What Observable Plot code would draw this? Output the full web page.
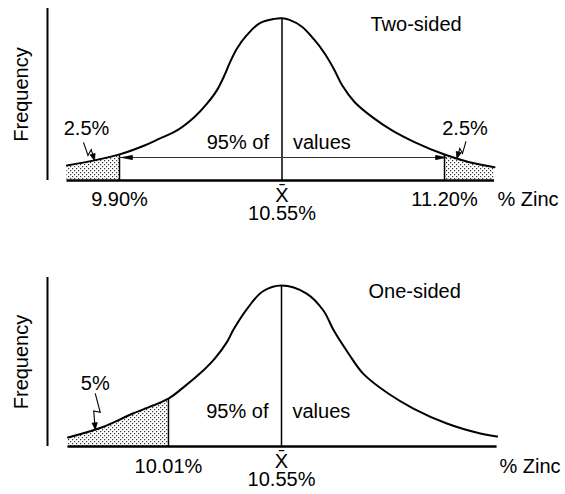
<!DOCTYPE html>
<html>
<head>
<meta charset="utf-8">
<script src="https://cdn.jsdelivr.net/npm/d3@7"></script>
<script src="https://cdn.jsdelivr.net/npm/@observablehq/plot@0.6"></script>
<style>
  html, body { margin: 0; padding: 0; background: #fff; }
  #chart { position: relative; width: 565px; height: 494px; }
  #chart svg { display: block; }
</style>
</head>
<body>
<div id="chart"></div>
<script>
// ---------------- data ----------------
// Two-sided panel: frequency curve (relative, peak = 100) vs % zinc
const topZinc = [9.69, 9.80, 9.90, 10.00, 10.06, 10.13, 10.20, 10.25, 10.29, 10.32, 10.34, 10.37, 10.41, 10.46, 10.52, 10.55,
                 10.58, 10.63, 10.68, 10.72, 10.76, 10.79, 10.84, 10.91, 10.99, 11.08, 11.20, 11.30, 11.40];
const topFreq = [9.3, 12.4, 16.1, 21.6, 25.8, 30.9, 39.2, 47.4, 55.7, 64.9, 72.2, 81.4, 89.7, 96.9, 99.6, 100,
                 99.0, 94.8, 86.6, 78.4, 68.0, 58.8, 48.4, 39.2, 30.9, 23.7, 16.0, 11.3, 8.2];
const topCutoffs = [9.90, 11.20];
const topCutoffLabels = ["9.90%", "11.20%"];
const topTailShares = ["2.5%", "2.5%"];

// One-sided panel
const bottomZinc = [9.53, 9.69, 9.84, 10.01, 10.08, 10.16, 10.23, 10.29, 10.32, 10.39, 10.46, 10.55,
                    10.67, 10.75, 10.80, 10.87, 10.94, 11.06, 11.18, 11.34, 11.50, 11.58];
const bottomFreq = [5.6, 11.8, 20.5, 29.8, 36.6, 45.3, 54.5, 65.0, 72.5, 86.3, 96.3, 100,
                    95.0, 84.5, 72.0, 57.8, 45.3, 32.9, 23.6, 14.3, 8.1, 6.2];
const bottomCutoffs = [10.01];
const bottomCutoffLabels = ["10.01%"];
const bottomTailShares = ["5%"];

const meanZinc = 10.55;
const meanLabels = ["X\u0304", "10.55%"];
const panelTitles = ["Two-sided", "One-sided"];
const centerTexts = ["95% of", "values"];
const xTitle = "% Zinc";
const yTitle = "Frequency";

// ---------------- helpers ----------------
const FONT = "'Liberation Sans', Arial, Helvetica, sans-serif";
const FS = 20;

function freqAt(zs, fs, x) {
  const i = d3.bisectLeft(zs, x);
  if (i <= 0) return fs[0];
  if (i >= zs.length) return fs[fs.length - 1];
  const t = (x - zs[i - 1]) / (zs[i] - zs[i - 1]);
  return fs[i - 1] + t * (fs[i] - fs[i - 1]);
}

// lightning-style pointer drawn as custom symbols (shape in px, anchored at tip)
function zigSymbol(pts, mirror) {
  return {draw(ctx, size) {
    const s = Math.sqrt(size / Math.PI), m = mirror ? -1 : 1;
    ctx.moveTo(m * pts[0][0] * s, pts[0][1] * s);
    for (const p of pts.slice(1)) ctx.lineTo(m * p[0] * s, p[1] * s);
  }};
}
function headSymbol(pts, mirror) {
  return {draw(ctx, size) {
    const s = Math.sqrt(size / Math.PI), m = mirror ? -1 : 1;
    const from = pts[pts.length - 2];
    const dx = -m * from[0], dy = -from[1];
    const L = Math.hypot(dx, dy), ux = dx / L, uy = dy / L;
    const hl = 6.5 * s, hw = 2.6 * s;
    const bx = -ux * hl, by = -uy * hl;
    ctx.moveTo(0, 0);
    ctx.lineTo(bx - uy * hw, by + ux * hw);
    ctx.lineTo(bx + uy * hw, by - ux * hw);
    ctx.closePath();
  }};
}
function pointer(tip, pts, mirror) {
  return [
    Plot.dot([tip], {x: "x", y: "y", r: 1, symbol: zigSymbol(pts, mirror), fill: "none", stroke: "black", strokeWidth: 1.1}),
    Plot.dot([tip], {x: "x", y: "y", r: 1, symbol: headSymbol(pts, mirror), fill: "black", stroke: "black", strokeWidth: 0.8})
  ];
}
// filled arrowhead for the 95% arrows
const arrowHead = {draw(ctx, size) {
  const s = Math.sqrt(size / Math.PI);
  ctx.moveTo(0, 0); ctx.lineTo(11 * s, -2.2 * s); ctx.lineTo(11 * s, 2.2 * s); ctx.closePath();
}};

function addPattern(svg, id) {
  d3.select(svg).insert("defs", ":first-child").html(
    `<pattern id="${id}" width="4" height="4" patternUnits="userSpaceOnUse">` +
    `<rect width="4" height="4" fill="white"/>` +
    `<rect x="0" y="0" width="1.2" height="1.2" fill="#333"/>` +
    `<rect x="2" y="2" width="1.2" height="1.2" fill="#333"/>` +
    `</pattern>`);
  return svg;
}

const txt = {fontFamily: FONT, fontSize: FS, fill: "black"};

function panel(opt) {
  const data = opt.zinc.map((x, i) => ({x, y: opt.freq[i]}));
  const peak = d3.max(opt.freq);
  const zMin = d3.min(opt.zinc), zMax = d3.max(opt.zinc);
  const fAt = (x) => freqAt(opt.zinc, opt.freq, x);
  const marks = [];
  // shaded tails
  for (const t of opt.tails) {
    const sub = data.filter(d => t.side === "left" ? d.x <= t.cut + 1e-9 : d.x >= t.cut - 1e-9);
    marks.push(Plot.areaY(sub, {x: "x", y: "y", fill: `url(#${opt.patternId})`, curve: "catmull-rom"}));
  }
  // vertical (frequency) axis line
  marks.push(Plot.ruleX([opt.xDomain[0]], {stroke: "black", strokeWidth: 2}));
  // baseline
  marks.push(Plot.ruleY([0], {x1: zMin, x2: zMax, stroke: "black", strokeWidth: 2.5}));
  // cutoff lines
  marks.push(Plot.ruleX(opt.tails.map(t => t.cut), {x: d => d, y1: 0, y2: d => fAt(d), stroke: "black", strokeWidth: 1.5}));
  // mean line
  marks.push(Plot.ruleX([meanZinc], {x: d => d, y1: 0, y2: peak, stroke: "black", strokeWidth: 1.5}));
  // 95% arrows
  if (opt.arrows) {
    const cuts = opt.tails.map(t => t.cut);
    marks.push(Plot.link(cuts, {
      x1: () => meanZinc, x2: d => d, y1: () => 0, y2: () => 0, dy: opt.arrowDy,
      stroke: "#333", strokeWidth: 1
    }));
    marks.push(Plot.dot(cuts, {x: d => d, y: () => 0, dy: opt.arrowDy, dx: 2, r: 1,
      symbol: arrowHead, rotate: d => d < meanZinc ? 0 : 180, fill: "black", stroke: "black", strokeWidth: 0.6}));
  }
  // curve
  marks.push(Plot.line(data, {x: "x", y: "y", curve: "catmull-rom", stroke: "black", strokeWidth: 2}));
  // pointers + tail shares
  for (const t of opt.tails) {
    const tip = {x: t.tipX, y: fAt(t.tipX)};
    marks.push(...pointer(tip, t.zig, t.side === "right"));
    marks.push(Plot.text([tip], {x: "x", y: "y", text: () => t.share, dx: t.labelDx, dy: t.labelDy,
      textAnchor: "middle", lineAnchor: "bottom", ...txt}));
  }
  // cutoff tick labels
  marks.push(Plot.text(opt.tails, {x: d => d.cut, text: d => d.label, frameAnchor: "bottom", dy: opt.tickDy,
    textAnchor: "middle", lineAnchor: "bottom", ...txt}));
  // mean labels
  marks.push(Plot.text([meanLabels[0]], {x: () => meanZinc, frameAnchor: "bottom", dy: 21, textAnchor: "middle", lineAnchor: "bottom", ...txt}));
  marks.push(Plot.text([meanLabels[1]], {x: () => meanZinc, frameAnchor: "bottom", dy: 39, textAnchor: "middle", lineAnchor: "bottom", ...txt}));
  // center text
  marks.push(Plot.text([centerTexts[0]], {x: () => meanZinc, frameAnchor: "bottom", dx: -13, dy: opt.centerDy, textAnchor: "end", lineAnchor: "bottom", ...txt}));
  marks.push(Plot.text([centerTexts[1]], {x: () => meanZinc, frameAnchor: "bottom", dx: 11, dy: opt.centerDy, textAnchor: "start", lineAnchor: "bottom", ...txt}));
  // x title
  marks.push(Plot.text([xTitle], {frameAnchor: "bottom-right", dx: 2, dy: opt.tickDy, textAnchor: "start", lineAnchor: "bottom", ...txt}));
  // y title
  marks.push(Plot.text([yTitle], {frameAnchor: "left", dx: -20, rotate: -90, textAnchor: "middle", lineAnchor: "bottom", ...txt}));
  // panel title
  marks.push(Plot.text([opt.title], {frameAnchor: "top-left", dx: opt.titleDx, dy: opt.titleDy, textAnchor: "start", lineAnchor: "bottom", ...txt}));

  const svg = Plot.plot({
    width: 565, height: 247,
    marginLeft: 47, marginRight: opt.marginRight, marginTop: opt.marginTop, marginBottom: opt.marginBottom,
    x: {domain: opt.xDomain, axis: null},
    y: {domain: opt.yDomain, axis: null},
    style: {background: "white", color: "black", fontFamily: FONT, overflow: "visible"},
    marks
  });
  return addPattern(svg, opt.patternId);
}

const topSvg = panel({
  zinc: topZinc, freq: topFreq, patternId: "dotsTop",
  xDomain: [9.612, 11.404], yDomain: [0, 106],
  marginRight: 70, marginTop: 8, marginBottom: 67,
  arrows: true, arrowDy: -23, tickDy: 25, centerDy: -32,
  title: panelTitles[0], titleDx: 323, titleDy: 22,
  tails: [
    {side: "left", cut: topCutoffs[0], label: topCutoffLabels[0], share: topTailShares[0], tipX: 9.80,
     zig: [[-11, -18], [-6.5, -5], [-3.3, -10.7], [0, 0]], labelDx: -8, labelDy: -25},
    {side: "right", cut: topCutoffs[1], label: topCutoffLabels[1], share: topTailShares[1], tipX: 11.25,
     zig: [[-9, -17], [-5.5, -5], [-2.8, -10], [0, 0]], labelDx: 8, labelDy: -23}
  ]
});

const bottomSvg = panel({
  zinc: bottomZinc, freq: bottomFreq, patternId: "dotsBottom",
  xDomain: [9.432, 11.582], yDomain: [0, 105],
  marginRight: 68, marginTop: 30, marginBottom: 48,
  arrows: false, tickDy: 26, centerDy: -29,
  title: panelTitles[1], titleDx: 321, titleDy: 20,
  tails: [
    {side: "left", cut: bottomCutoffs[0], label: bottomCutoffLabels[0], share: bottomTailShares[0], tipX: 9.66,
     zig: [[0, -36], [5, -17], [-1.5, -18.5], [0, 0]], labelDx: 0, labelDy: -39}
  ]
});

const chart = document.getElementById("chart");
chart.appendChild(topSvg);
chart.appendChild(bottomSvg);
</script>
</body>
</html>
